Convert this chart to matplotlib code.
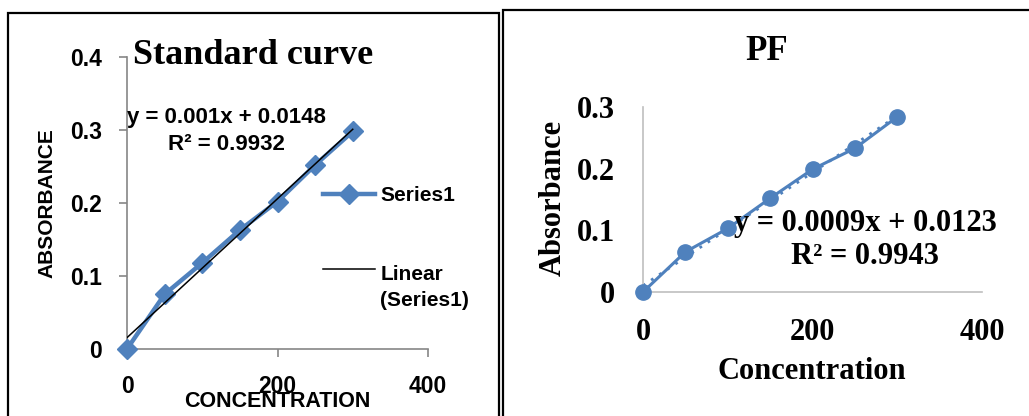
import numpy as np
import matplotlib.pyplot as plt
from matplotlib.patches import Rectangle
from matplotlib.legend_handler import HandlerLine2D
from matplotlib.ticker import FuncFormatter

# Standard curve data
std_conc = [0, 50, 100, 150, 200, 250, 300]
std_abs = [0, 0.075, 0.118, 0.163, 0.202, 0.252, 0.298]
std_eq = "y = 0.001x + 0.0148\nR² = 0.9932"

# PF data
pf_conc = [0, 50, 100, 150, 200, 250, 300]
pf_abs = [0, 0.065, 0.103, 0.152, 0.199, 0.233, 0.284]
pf_eq = "y = 0.0009x + 0.0123\nR² = 0.9943"

blue = '#4F81BD'
sans = 'Liberation Sans'
serif = 'Liberation Serif'


class ShiftedLine(HandlerLine2D):
    # legend line drawn level with the first text row
    def __init__(self, dy, **kw):
        super().__init__(**kw)
        self.dy = dy

    def create_artists(self, legend, orig_handle, xdescent, ydescent,
                       width, height, fontsize, trans):
        arts = super().create_artists(legend, orig_handle, xdescent, ydescent,
                                      width, height, fontsize, trans)
        for a in arts:
            a.set_ydata(np.asarray(a.get_ydata()) + self.dy)
        return arts


fig = plt.figure(figsize=(10.29, 4.16), dpi=100)

# panel frames
fig.patches.append(Rectangle((8 / 1029, -0.1), 491 / 1029, 1.1 - 13 / 416,
                             transform=fig.transFigure, fill=False,
                             edgecolor='black', lw=1.6))
fig.patches.append(Rectangle((503 / 1029, -0.1), 0.6, 1.1 - 10 / 416,
                             transform=fig.transFigure, fill=False,
                             edgecolor='black', lw=1.6))

fmt = FuncFormatter(lambda v, p: '{:g}'.format(round(v, 2)))

# ---- left: standard curve
ax1 = fig.add_axes([127 / 1029, 1 - 349 / 416, 301 / 1029, 292 / 416])
ax1.set_xlim(0, 400)
ax1.set_ylim(0, 0.4)
fit1 = np.polyfit(std_conc, std_abs, 1)
xs1 = np.array([std_conc[0], std_conc[-1]])
ax1.plot(std_conc, std_abs, color=blue, lw=3.2, marker='D', ms=10,
         clip_on=False, zorder=3, label='Series1')
ax1.plot(xs1, np.polyval(fit1, xs1), color='black', lw=1.1, zorder=4,
         label='Linear\n(Series1)')
for s in ['top', 'right']:
    ax1.spines[s].set_visible(False)
for s in ['left', 'bottom']:
    ax1.spines[s].set_color('#868686')
    ax1.spines[s].set_linewidth(1.2)
ax1.set_xticks([0, 200, 400])
ax1.set_yticks([0, 0.1, 0.2, 0.3, 0.4])
ax1.yaxis.set_major_formatter(fmt)
ax1.tick_params(axis='x', length=6, width=1.2, color='#868686', pad=13)
ax1.tick_params(axis='y', length=6, width=1.2, color='#868686', pad=12)
for lab in ax1.get_xticklabels() + ax1.get_yticklabels():
    lab.set_fontfamily(sans)
    lab.set_fontweight('bold')
    lab.set_fontsize(16.5)
ax1.set_xlabel('CONCENTRATION', fontfamily=sans, fontweight='bold', fontsize=15.5)
ax1.set_ylabel('ABSORBANCE', fontfamily=sans, fontweight='bold', fontsize=15)
ax1.xaxis.set_label_coords(0.498, -0.1815)
ax1.xaxis.label.set_va('center')
ax1.yaxis.set_label_coords(-0.266, 0.5)
ax1.yaxis.label.set_va('center')
ax1.text(0.332, 0.747, std_eq, transform=ax1.transAxes, ha='center',
         va='center', multialignment='center', fontfamily=sans,
         fontweight='bold', fontsize=16, linespacing=1.4)
fig.text(253 / 1029, 1 - 55 / 416, 'Standard curve', ha='center', va='center',
         fontfamily=serif, fontweight='bold', fontsize=26)
h1, l1 = ax1.get_legend_handles_labels()
leg = ax1.legend(h1, l1, loc='upper left',
                 bbox_to_anchor=(323 / 1029, 1 - 186 / 416),
                 bbox_transform=fig.transFigure, frameon=False,
                 prop={'family': sans, 'weight': 'bold', 'size': 15},
                 handlelength=2.5, handletextpad=0.25, labelspacing=2.9,
                 borderpad=0, borderaxespad=0,
                 handler_map={h1[1]: ShiftedLine(14)})
leg.get_texts()[1].set_linespacing(1.45)

# ---- right: PF
ax2 = fig.add_axes([643 / 1029, 1 - 292 / 416, 339 / 1029, 185 / 416])
ax2.set_xlim(0, 400)
ax2.set_ylim(0, 0.3)
fit2 = np.polyfit(pf_conc, pf_abs, 1)
xs2 = np.array([pf_conc[0], pf_conc[-1]])
ax2.plot(pf_conc, pf_abs, color=blue, lw=2.2, marker='o', ms=11,
         clip_on=False, zorder=3)
ax2.plot(xs2, np.polyval(fit2, xs2), color=blue, lw=2, ls=(0, (1, 2.5)),
         zorder=2, clip_on=False)
for s in ['top', 'right']:
    ax2.spines[s].set_visible(False)
for s in ['left', 'bottom']:
    ax2.spines[s].set_color('#BFBFBF')
    ax2.spines[s].set_linewidth(1.2)
ax2.set_xticks([0, 200, 400])
ax2.set_yticks([0, 0.1, 0.2, 0.3])
ax2.yaxis.set_major_formatter(fmt)
ax2.tick_params(axis='x', length=0, pad=18.5)
ax2.tick_params(axis='y', length=0, pad=20)
for lab in ax2.get_xticklabels() + ax2.get_yticklabels():
    lab.set_fontfamily(serif)
    lab.set_fontweight('bold')
    lab.set_fontsize(22)
ax2.set_xlabel('Concentration', fontfamily=serif, fontweight='bold', fontsize=22)
ax2.set_ylabel('Absorbance', fontfamily=serif, fontweight='bold', fontsize=22)
ax2.xaxis.set_label_coords(0.4985, -0.432)
ax2.xaxis.label.set_va('center')
ax2.yaxis.set_label_coords(-0.2655, 0.508)
ax2.yaxis.label.set_va('center')
ax2.text(0.655, 0.281, pf_eq, transform=ax2.transAxes, ha='center',
         va='center', multialignment='center', fontfamily=serif,
         fontweight='bold', fontsize=22, linespacing=1.15, zorder=5)
fig.text(767 / 1029, 1 - 52 / 416, 'PF', ha='center', va='center',
         fontfamily=serif, fontweight='bold', fontsize=25)

fig.savefig('out.png', dpi=100)
